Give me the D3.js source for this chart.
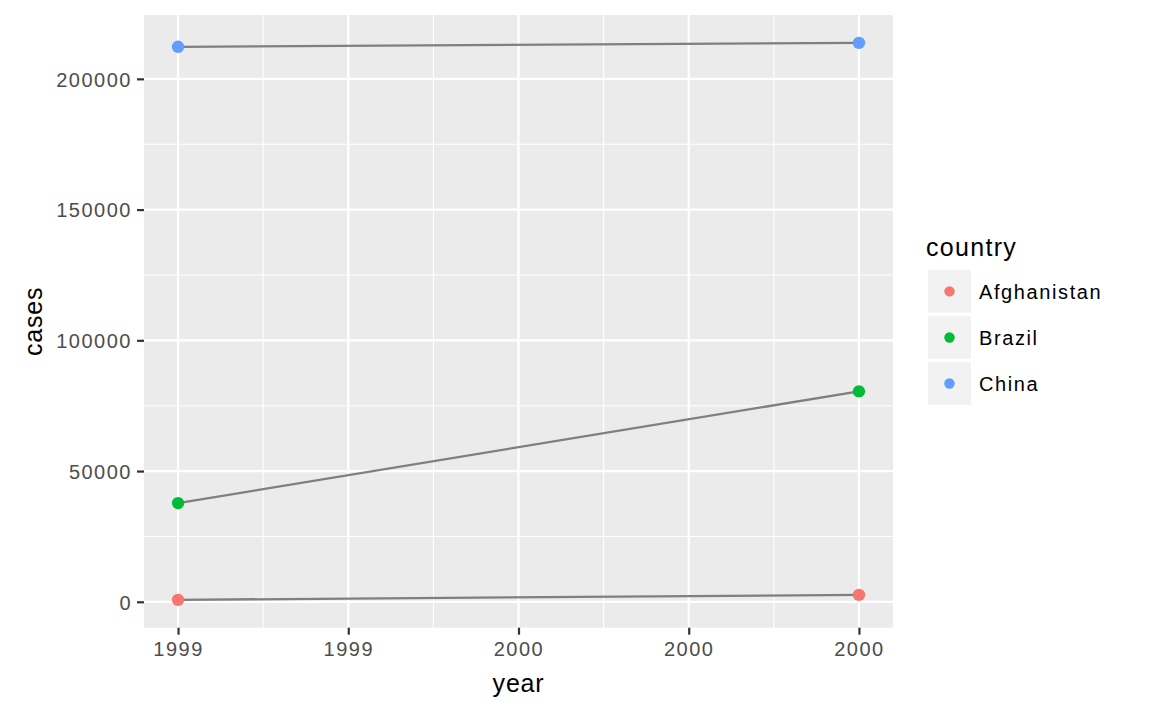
<!DOCTYPE html>
<html><head><meta charset="utf-8">
<script src="https://cdn.jsdelivr.net/npm/d3@7"></script>
<style>body{margin:0;background:#fff}svg{display:block}text{font-family:"Liberation Sans",Arial,sans-serif}</style>
</head><body><svg id="c" width="1152" height="711"></svg>
<script>
const countries = ["Afghanistan", "Brazil", "China"];
const years = [1999, 2000];
const afghanistanCases = [745, 2666];
const brazilCases = [37737, 80488];
const chinaCases = [212258, 213766];
const countryColors = ["#F8766D", "#00BA38", "#619CFF"];
const xTickValues = [1999, 1999.25, 1999.5, 1999.75, 2000];
const xTickLabels = ["1999", "1999", "2000", "2000", "2000"];
const xMinorValues = [1999.125, 1999.375, 1999.625, 1999.875];
const yTickValues = [0, 50000, 100000, 150000, 200000];
const yTickLabels = ["0", "50000", "100000", "150000", "200000"];
const yMinorValues = [25000, 75000, 125000, 175000];

const seriesCases = [afghanistanCases, brazilCases, chinaCases];
const series = countries.map((c, i) => ({country: c, color: countryColors[i],
  values: years.map((y, j) => ({year: y, cases: seriesCases[i][j]}))}));

const svg = d3.select("#c");
const P = {l: 144, r: 893, t: 15, b: 627.7};
const allCases = seriesCases.flat();
const yMin = d3.min(allCases), yMax = d3.max(allCases), yPad = (yMax - yMin) * 0.05;
const xMin = d3.min(years), xMax = d3.max(years), xPad = (xMax - xMin) * 0.05;
const x = d3.scaleLinear().domain([xMin - xPad, xMax + xPad]).range([P.l, P.r]);
const y = d3.scaleLinear().domain([yMin - yPad, yMax + yPad]).range([P.b, P.t]);

svg.append("rect").attr("x", P.l).attr("y", P.t).attr("width", P.r - P.l).attr("height", P.b - P.t).attr("fill", "#EBEBEB");
const g = svg.append("g");
g.selectAll(".ymin").data(yMinorValues).join("line").attr("x1", P.l).attr("x2", P.r)
  .attr("y1", d => y(d)).attr("y2", d => y(d)).attr("stroke", "#fff").attr("stroke-width", 1.1);
g.selectAll(".xmin").data(xMinorValues).join("line").attr("y1", P.t).attr("y2", P.b)
  .attr("x1", d => x(d)).attr("x2", d => x(d)).attr("stroke", "#fff").attr("stroke-width", 1.1);
g.selectAll(".ymaj").data(yTickValues).join("line").attr("x1", P.l).attr("x2", P.r)
  .attr("y1", d => y(d)).attr("y2", d => y(d)).attr("stroke", "#fff").attr("stroke-width", 2.2);
g.selectAll(".xmaj").data(xTickValues).join("line").attr("y1", P.t).attr("y2", P.b)
  .attr("x1", d => x(d)).attr("x2", d => x(d)).attr("stroke", "#fff").attr("stroke-width", 2.2);

// axes
const yAxis = d3.axisLeft(y).tickValues(yTickValues).tickFormat((d, i) => yTickLabels[i]).tickSize(7).tickPadding(5);
const ya = svg.append("g").attr("transform", `translate(${P.l},0)`).call(yAxis);
const xAxis = d3.axisBottom(x).tickValues(xTickValues).tickFormat((d, i) => xTickLabels[i]).tickSize(7).tickPadding(6);
const xa = svg.append("g").attr("transform", `translate(0,${P.b})`).call(xAxis);
[ya, xa].forEach(a => {
  a.select(".domain").remove();
  a.selectAll(".tick line").attr("stroke", "#333333").attr("stroke-width", 2.2);
  a.selectAll(".tick text").attr("fill", "#4D4D4D").attr("font-size", 20).attr("letter-spacing", "1.5px")
    .style("font-family", '"Liberation Sans",Arial,sans-serif');
});
ya.selectAll(".tick text").attr("dy", "0.36em");
xa.selectAll(".tick text").attr("dy", "0.75em");

// lines
const line = d3.line().x(d => x(d.year)).y(d => y(d.cases));
svg.append("g").selectAll("path").data(series).join("path").attr("d", d => line(d.values))
  .attr("fill", "none").attr("stroke", "#7F7F7F").attr("stroke-width", 2.3);
// points
svg.append("g").selectAll("g").data(series).join("g").attr("fill", d => d.color)
  .selectAll("circle").data(d => d.values).join("circle")
  .attr("cx", d => x(d.year)).attr("cy", d => y(d.cases)).attr("r", 6.2);

// titles
svg.append("text").attr("x", (P.l + P.r) / 2).attr("y", 692).attr("text-anchor", "middle")
  .attr("font-size", 25).attr("letter-spacing", "0.8px").attr("fill", "#000").text("year");
svg.append("text").attr("transform", `translate(42,${(P.t + P.b) / 2}) rotate(-90)`).attr("text-anchor", "middle")
  .attr("font-size", 25).attr("letter-spacing", "0.8px").attr("fill", "#000").text("cases");

// legend
const lg = svg.append("g");
lg.append("text").attr("x", 926).attr("y", 256).attr("font-size", 25).attr("letter-spacing", "1.3px")
  .attr("fill", "#000").text("country");
const keyH = 42.7, keyGap = 3.4, key0 = 270;
const items = lg.selectAll("g.k").data(series).join("g").attr("class", "k")
  .attr("transform", (d, i) => `translate(928,${key0 + i * (keyH + keyGap)})`);
items.append("rect").attr("width", 43).attr("height", keyH).attr("fill", "#F2F2F2");
items.append("circle").attr("cx", 21.5).attr("cy", keyH / 2).attr("r", 5.2).attr("fill", d => d.color);
items.append("text").attr("x", 51).attr("y", keyH / 2).attr("dy", "0.36em").attr("font-size", 20)
  .attr("letter-spacing", "1.6px").attr("fill", "#000").text(d => d.country);
</script></body></html>
